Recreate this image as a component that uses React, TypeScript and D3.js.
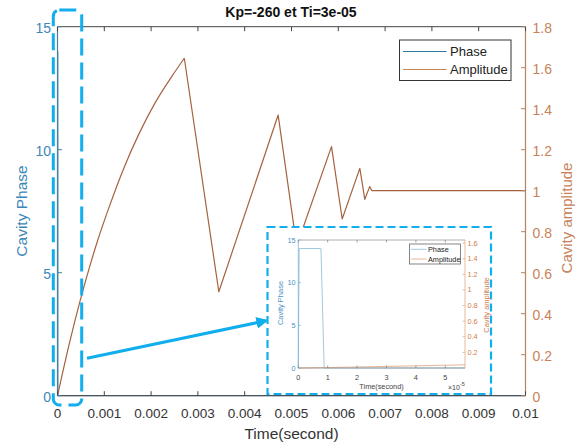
import React from "react";
import * as d3 from "d3";

// ---------- data ----------
const ampTime = [0, 0.00025, 0.000491, 0.000669, 0.000848, 0.001097, 0.001417, 0.001738, 0.002094, 0.00245, 0.00271, 0.003447, 0.004715, 0.00511, 0.005855, 0.006083, 0.00646, 0.006567, 0.00667, 0.00672, 0.01];
const ampVals = [0, 0.252, 0.47, 0.615, 0.75, 0.916, 1.11, 1.276, 1.432, 1.56, 1.646, 0.507, 1.369, 0.73, 1.215, 0.862, 1.109, 0.958, 1.02, 1.0, 1.0];
const ampPeakIndex = 10; // end of the smooth charging ramp

const phaseTime = [0, 0.0000003, 0.0000077, 0.0000088, 0.01];
const phaseVals = [0, 14, 14, 0, 0];

const insetAmpTime = [0, 0.00001, 0.00002, 0.00003, 0.00004, 0.00005, 0.0000567];
const insetAmpVals = [0, 0.006, 0.013, 0.02, 0.028, 0.036, 0.041];

const xTicks = [0, 0.001, 0.002, 0.003, 0.004, 0.005, 0.006, 0.007, 0.008, 0.009, 0.01];
const xTickLabels = ["0", "0.001", "0.002", "0.003", "0.004", "0.005", "0.006", "0.007", "0.008", "0.009", "0.01"];
const leftTicks = [0, 5, 10, 15];
const rightTicks = [0, 0.2, 0.4, 0.6, 0.8, 1, 1.2, 1.4, 1.6, 1.8];
const rightTickLabels = ["0", "0.2", "0.4", "0.6", "0.8", "1", "1.2", "1.4", "1.6", "1.8"];

const insetXTicks = [0, 0.00001, 0.00002, 0.00003, 0.00004, 0.00005];
const insetXTickLabels = ["0", "1", "2", "3", "4", "5"];
const insetLeftTicks = [0, 5, 10, 15];
const insetRightTicks = [0.2, 0.4, 0.6, 0.8, 1, 1.2, 1.4, 1.6];
const insetRightTickLabels = ["0.2", "0.4", "0.6", "0.8", "1", "1.2", "1.4", "1.6"];

const titleText = "Kp=-260 et Ti=3e-05";
const seriesNames = ["Phase", "Amplitude"];

// ---------- styles ----------
const FONT = "'Liberation Sans', Arial, Helvetica, sans-serif";
const LEFT_TXT = "#3d87b8";
const LEFT_AX = "#46809c";
const RIGHT_TXT = "#c8825a";
const RIGHT_AX = "#b5835f";
const AMP_LINE = "#a5623f";
const PHASE_LINE = "#2a7d9c";
const CYAN = "#10aeec";

export default function App() {
  const W = 588, H = 448;
  // main axes
  const x = d3.scaleLinear().domain([0, 0.01]).range([57.5, 525.5]);
  const yL = d3.scaleLinear().domain([0, 15]).range([395.7, 26.7]);
  const yR = d3.scaleLinear().domain([0, 1.8]).range([395.7, 26.7]);
  const [x0, x1] = x.range();
  const [yb, yt] = yL.range();

  const ampPts: [number, number][] = ampTime.map((t, i) => [x(t), yR(ampVals[i])]);
  const rampPath = d3.line().curve(d3.curveMonotoneX)(ampPts.slice(0, ampPeakIndex + 1)) || "";
  const sawPath = d3.line()(ampPts.slice(ampPeakIndex)) || "";
  const phasePath = d3.line()(phaseTime.map((t, i) => [x(t), yL(phaseVals[i])] as [number, number])) || "";

  // inset axes
  const xi = d3.scaleLinear().domain([0, 0.0000567]).range([298.3, 465]);
  const yiL = d3.scaleLinear().domain([0, 15]).range([368, 240]);
  const yiR = d3.scaleLinear().domain([0, 1.64]).range([368, 240]);
  const [ix0, ix1] = xi.range();
  const [iyb, iyt] = yiL.range();
  const iPhasePath = d3.line()(phaseTime.map((t, i) => [xi(Math.min(t, 0.0000567)), yiL(phaseVals[i])] as [number, number])) || "";
  const iAmpPath = d3.line()(insetAmpTime.map((t, i) => [xi(t), yiR(insetAmpVals[i])] as [number, number])) || "";

  return (
    <svg width={W} height={H} style={{ position: "absolute", left: 0, top: 0, background: "#fff" }} fontFamily={FONT}>
      <defs>
        <marker id="arrowHead" viewBox="0 0 10 10" refX="8" refY="5" markerWidth="4" markerHeight="4" orient="auto">
          <path d="M0,0 L10,5 L0,10 z" fill={CYAN} />
        </marker>
      </defs>
      <rect x={0} y={0} width={W} height={H} fill="#fff" />

      {/* title */}
      <text x={291} y={17} textAnchor="middle" fontSize={14} fontWeight="bold" fill="#111">{titleText}</text>

      {/* data */}
      <path d={phasePath} fill="none" stroke={PHASE_LINE} strokeWidth={1} />
      <path d={rampPath} fill="none" stroke={AMP_LINE} strokeWidth={1.2} strokeLinejoin="round" />
      <path d={sawPath} fill="none" stroke={AMP_LINE} strokeWidth={1.2} strokeLinejoin="round" />

      {/* axes box */}
      <line x1={x0} x2={x1} y1={yt} y2={yt} stroke="#444" strokeWidth={1} />
      <line x1={x0} x2={x1} y1={yb} y2={yb} stroke="#444" strokeWidth={1} />
      <line x1={x0} x2={x0} y1={yt} y2={yb} stroke={LEFT_AX} strokeWidth={1.2} />
      <line x1={x1} x2={x1} y1={yt} y2={yb} stroke={RIGHT_AX} strokeWidth={1.2} />

      {xTicks.map((t, i) => (
        <g key={"xt" + i}>
          <line x1={x(t)} x2={x(t)} y1={yb} y2={yb - 4.5} stroke="#444" />
          <line x1={x(t)} x2={x(t)} y1={yt} y2={yt + 4.5} stroke="#444" />
          <text x={x(t)} y={413} textAnchor="middle" dominantBaseline="central" fontSize={13.5} fill="#333">{xTickLabels[i]}</text>
        </g>
      ))}
      {leftTicks.map((t, i) => (
        <g key={"lt" + i}>
          <line x1={x0} x2={x0 + 4.5} y1={yL(t)} y2={yL(t)} stroke={LEFT_AX} />
          <text x={51} y={yL(t) + 1.5} textAnchor="end" dominantBaseline="central" fontSize={14} fill={LEFT_TXT}>{t}</text>
        </g>
      ))}
      {rightTicks.map((t, i) => (
        <g key={"rt" + i}>
          <line x1={x1} x2={x1 - 4.5} y1={yR(t)} y2={yR(t)} stroke={RIGHT_AX} />
          <text x={532.5} y={yR(t) + 1.5} textAnchor="start" dominantBaseline="central" fontSize={14} fill={RIGHT_TXT}>{rightTickLabels[i]}</text>
        </g>
      ))}

      {/* axis labels */}
      <text x={291.5} y={433} textAnchor="middle" dominantBaseline="central" fontSize={15.5} fill="#333">Time(second)</text>
      <text transform="translate(21.5,211) rotate(-90)" textAnchor="middle" dominantBaseline="central" fontSize={15.5} fill={LEFT_TXT}>Cavity Phase</text>
      <text transform="translate(566.5,218) rotate(-90)" textAnchor="middle" dominantBaseline="central" fontSize={15} fill={RIGHT_TXT}>Cavity amplitude</text>

      {/* legend */}
      <rect x={399.5} y={40} width={111.5} height={40.5} fill="#fff" stroke="#333" strokeWidth={1} />
      <line x1={403} x2={446.5} y1={51.5} y2={51.5} stroke={PHASE_LINE} strokeWidth={1.2} />
      <line x1={403} x2={446.5} y1={69.5} y2={69.5} stroke="#c58658" strokeWidth={1.2} />
      <text x={450} y={51.5} dominantBaseline="central" fontSize={13} fill="#222">{seriesNames[0]}</text>
      <text x={450} y={69.5} dominantBaseline="central" fontSize={13} fill="#222">{seriesNames[1]}</text>

      {/* cyan highlight box */}
      <rect x={53.3} y={10} width={28.4} height={395} rx={6} ry={6} fill="none" stroke={CYAN} strokeWidth={3} strokeDasharray="17 7" />

      {/* arrow */}
      <line x1={87} y1={358.3} x2={266} y2={320.8} stroke={CYAN} strokeWidth={3} markerEnd="url(#arrowHead)" />

      {/* inset */}
      <rect x={267.5} y={227} width={223.5} height={167} fill="#fff" stroke={CYAN} strokeWidth={2.2} strokeDasharray="8 4" />
      <path d={iPhasePath} fill="none" stroke="#9fc9de" strokeWidth={1} />
      <path d={iAmpPath} fill="none" stroke="#e6b596" strokeWidth={1} />
      <line x1={ix0} x2={ix1} y1={iyt} y2={iyt} stroke="#9a9a9a" strokeWidth={0.8} />
      <line x1={ix0} x2={ix1} y1={iyb} y2={iyb} stroke="#8a8a8a" strokeWidth={0.8} />
      <line x1={ix0} x2={ix0} y1={iyt} y2={iyb} stroke="#7fb3d3" strokeWidth={0.8} />
      <line x1={ix1} x2={ix1} y1={iyt} y2={iyb} stroke="#e2a985" strokeWidth={0.8} />
      {insetXTicks.map((t, i) => (
        <g key={"ixt" + i}>
          <line x1={xi(t)} x2={xi(t)} y1={iyb} y2={iyb - 2.5} stroke="#888" strokeWidth={0.8} />
          <line x1={xi(t)} x2={xi(t)} y1={iyt} y2={iyt + 2.5} stroke="#888" strokeWidth={0.8} />
          <text x={xi(t)} y={377.5} textAnchor="middle" dominantBaseline="central" fontSize={7.3} fill="#444">{insetXTickLabels[i]}</text>
        </g>
      ))}
      {insetLeftTicks.map((t, i) => (
        <g key={"ilt" + i}>
          <line x1={ix0} x2={ix0 + 2.5} y1={yiL(t)} y2={yiL(t)} stroke="#7fb3d3" strokeWidth={0.8} />
          <text x={295.5} y={yiL(t)} textAnchor="end" dominantBaseline="central" fontSize={7.3} fill="#4a92c2">{t}</text>
        </g>
      ))}
      {insetRightTicks.map((t, i) => (
        <g key={"irt" + i}>
          <line x1={ix1} x2={ix1 - 2.5} y1={yiR(t)} y2={yiR(t)} stroke="#e2a985" strokeWidth={0.8} />
          <text x={467.5} y={yiR(t)} textAnchor="start" dominantBaseline="central" fontSize={7.3} fill="#d27c4c">{insetRightTickLabels[i]}</text>
        </g>
      ))}
      <text x={381.5} y={386.5} textAnchor="middle" dominantBaseline="central" fontSize={7.3} fill="#444">Time(second)</text>
      <text x={448} y={387} dominantBaseline="central" fontSize={7} fill="#444">×10<tspan dy={-3} fontSize={5.5}>-5</tspan></text>
      <text transform="translate(280.5,303) rotate(-90)" textAnchor="middle" dominantBaseline="central" fontSize={7.5} fill="#4a92c2">Cavity Phase</text>
      <text transform="translate(486,305) rotate(-90)" textAnchor="middle" dominantBaseline="central" fontSize={7.5} fill="#d27c4c">Cavity amplitude</text>
      <rect x={409.5} y={244} width={51} height={20} fill="#fff" stroke="#666" strokeWidth={0.8} />
      <line x1={411} x2={426.5} y1={249.3} y2={249.3} stroke="#9fc9de" strokeWidth={1} />
      <line x1={411} x2={426.5} y1={259} y2={259} stroke="#e6b596" strokeWidth={1} />
      <text x={428} y={249.3} dominantBaseline="central" fontSize={7.3} fill="#222">{seriesNames[0]}</text>
      <text x={428} y={259} dominantBaseline="central" fontSize={7.3} fill="#222">{seriesNames[1]}</text>
    </svg>
  );
}
